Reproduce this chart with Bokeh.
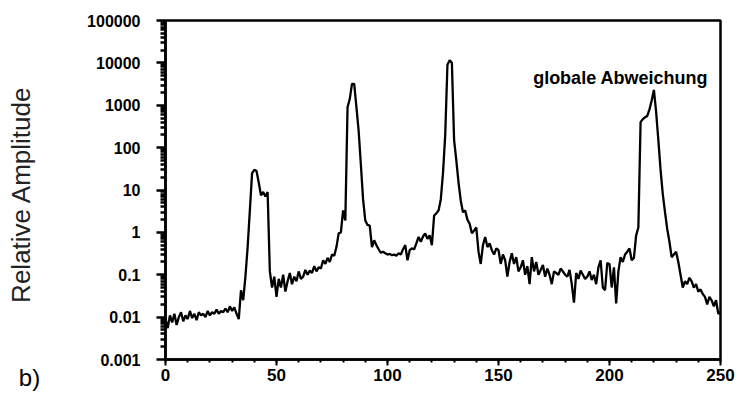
import math
from bokeh.plotting import figure
from bokeh.layouts import row
from bokeh.models import FixedTicker, CustomJSTickFormatter, Label, Range1d, ColumnDataSource
from bokeh.embed import file_html
from bokeh.resources import INLINE

# ---- data (x = 0..250, one value per unit) ----
amp_0_49 = [0.009, 0.0055, 0.011, 0.0075, 0.012, 0.0065, 0.010, 0.013, 0.008, 0.011,
            0.009, 0.014, 0.0095, 0.012, 0.0085, 0.013, 0.011, 0.012, 0.010, 0.014,
            0.011, 0.013, 0.012, 0.015, 0.012, 0.014, 0.013, 0.016, 0.013, 0.018,
            0.014, 0.017, 0.012, 0.009, 0.043, 0.025, 0.09, 0.45, 3.3, 25,
            30, 28, 15, 7.5, 9, 7, 9, 0.12, 0.05, 0.09]
amp_50_99 = [0.03, 0.08, 0.05, 0.10, 0.04, 0.07, 0.11, 0.06, 0.09, 0.07,
             0.12, 0.08, 0.09, 0.13, 0.10, 0.125, 0.11, 0.16, 0.12, 0.15,
             0.14, 0.22, 0.18, 0.25, 0.20, 0.30, 0.28, 0.45, 0.95, 1.0,
             3.3, 1.9, 900, 1400, 3200, 3200, 900, 250, 40, 6,
             1.9, 1.5, 1.45, 0.45, 0.65, 0.5, 0.4, 0.33, 0.35, 0.32]
amp_100_149 = [0.30, 0.31, 0.29, 0.30, 0.28, 0.32, 0.30, 0.40, 0.50, 0.22,
               0.38, 0.42, 0.40, 0.55, 0.78, 0.60, 0.80, 0.95, 0.70, 0.85,
               0.50, 2.5, 2.8, 3.3, 6, 25, 200, 9000, 11500, 10000,
               150, 50, 15, 5.6, 3.0, 3.3, 2.0, 1.6, 0.95, 1.1,
               1.3, 0.35, 0.18, 0.5, 0.78, 0.45, 0.55, 0.38, 0.30, 0.42]
amp_150_199 = [0.38, 0.18, 0.30, 0.22, 0.09, 0.20, 0.32, 0.18, 0.26, 0.12,
               0.15, 0.22, 0.10, 0.16, 0.06, 0.26, 0.12, 0.20, 0.10, 0.13,
               0.17, 0.09, 0.14, 0.10, 0.06, 0.12, 0.11, 0.10, 0.14, 0.12,
               0.10, 0.09, 0.13, 0.06, 0.022, 0.11, 0.08, 0.125, 0.10, 0.08,
               0.09, 0.12, 0.075, 0.10, 0.06, 0.15, 0.22, 0.05, 0.043, 0.19]
amp_200_250 = [0.18, 0.05, 0.15, 0.021, 0.12, 0.26, 0.20, 0.30, 0.35, 0.42,
               0.22, 0.25, 0.85, 1.3, 400, 470, 520, 560, 800, 1300,
               2300, 700, 150, 30, 8, 3, 1.2, 0.6, 0.26, 0.30,
               0.35, 0.20, 0.10, 0.05, 0.07, 0.06, 0.085, 0.07, 0.05, 0.06,
               0.04, 0.045, 0.035, 0.03, 0.02, 0.03, 0.025, 0.018, 0.025, 0.012,
               0.013]

amplitude = amp_0_49 + amp_50_99 + amp_100_149 + amp_150_199 + amp_200_250
index = list(range(len(amplitude)))

x_ticks = [0, 50, 100, 150, 200, 250]
y_decades = [-3, -2, -1, 0, 1, 2, 3, 4, 5]
label_text = "globale Abweichung"
y_label = "Relative Amplitude"
panel_tag = "b)"

FONT = "Liberation Sans"

# ---- narrow side figure carrying the axis title and the panel tag ----
side = figure(width=80, height=394, x_range=Range1d(0, 80), y_range=Range1d(35, 374),
              output_backend="svg", toolbar_location=None,
              x_axis_location="below", y_axis_location=None,
              min_border_left=0, min_border_right=0,
              min_border_top=20, min_border_bottom=35)
side.outline_line_color = None
side.xgrid.visible = False
side.ygrid.visible = False
side.background_fill_color = "white"
side.border_fill_color = "white"
side.xaxis.ticker = FixedTicker(ticks=[29], minor_ticks=[])
side.xaxis.formatter = CustomJSTickFormatter(code='return "%s";' % panel_tag)
side.xaxis.axis_line_color = None
side.xaxis.major_tick_line_color = None
side.xaxis.major_tick_out = 0
side.xaxis.major_tick_in = 0
side.xaxis.minor_tick_line_color = None
side.xaxis.major_label_standoff = 4
side.xaxis.major_label_text_font = FONT
side.xaxis.major_label_text_font_size = "24px"
side.xaxis.major_label_text_color = "black"
side.add_layout(Label(x=20, y=200, text=y_label, angle=math.pi / 2,
                      text_font=FONT, text_font_size="26px", text_color="#222222",
                      text_align="center", text_baseline="middle"))

# ---- main figure ----
p = figure(width=660, height=394, y_axis_type="log",
           x_range=Range1d(0, 250), y_range=Range1d(0.001, 100000),
           output_backend="svg", toolbar_location=None,
           min_border_left=85, min_border_right=20,
           min_border_top=20, min_border_bottom=35)
p.background_fill_color = "white"
p.border_fill_color = "white"
p.outline_line_color = "black"
p.outline_line_width = 2.5
p.xgrid.visible = False
p.ygrid.visible = False

src = ColumnDataSource(dict(x=index, y=amplitude))
p.line("x", "y", source=src, line_color="black", line_width=2.3)

# x axis
p.xaxis.ticker = FixedTicker(ticks=x_ticks, minor_ticks=list(range(0, 251, 10)))
p.xaxis.axis_line_width = 2.5
p.xaxis.major_tick_line_width = 2
p.xaxis.major_tick_out = 6
p.xaxis.major_tick_in = 0
p.xaxis.minor_tick_line_width = 2
p.xaxis.minor_tick_out = 3
p.xaxis.minor_tick_in = 0
p.xaxis.major_label_standoff = 3
p.xaxis.major_label_text_font = FONT
p.xaxis.major_label_text_font_style = "bold"
p.xaxis.major_label_text_font_size = "17px"
p.xaxis.major_label_text_color = "black"

# y axis
major_y = [10.0 ** e for e in y_decades]
minor_y = [k * 10.0 ** e for e in y_decades[:-1] for k in range(2, 10)]
p.yaxis.ticker = FixedTicker(ticks=major_y, minor_ticks=minor_y)
p.yaxis.formatter = CustomJSTickFormatter(code="""
const e = Math.round(Math.log10(tick));
if (e >= 0) { return "1" + "0".repeat(e); }
return "0." + "0".repeat(-e - 1) + "1";
""")
p.yaxis.axis_line_width = 2.5
p.yaxis.major_tick_line_width = 2.5
p.yaxis.major_tick_out = 9
p.yaxis.major_tick_in = 0
p.yaxis.minor_tick_line_width = 2.5
p.yaxis.minor_tick_out = 5
p.yaxis.minor_tick_in = 0
p.yaxis.major_label_standoff = 16
p.yaxis.major_label_text_font = FONT
p.yaxis.major_label_text_font_style = "bold"
p.yaxis.major_label_text_font_size = "16px"
p.yaxis.major_label_text_color = "black"

p.add_layout(Label(x=165.6, y=4290, text=label_text, text_font=FONT,
                   text_font_style="bold", text_font_size="18px",
                   text_color="black", text_baseline="alphabetic"))

layout = row(side, p, spacing=0)
open("out.html", "w").write(file_html(layout, INLINE))
